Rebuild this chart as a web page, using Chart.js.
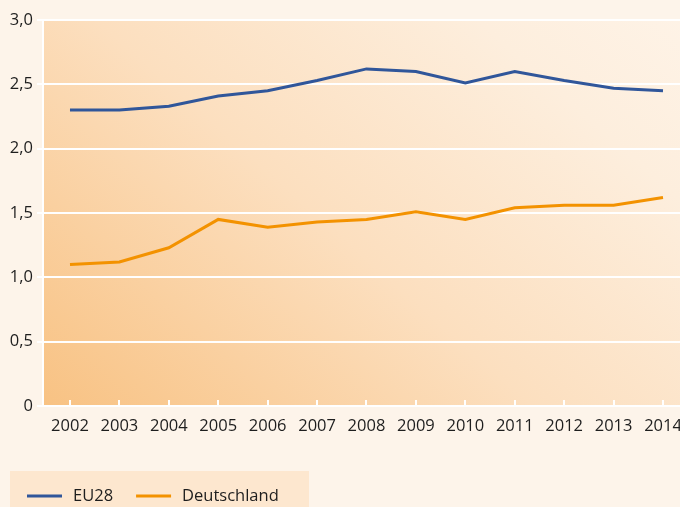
<!DOCTYPE html>
<html lang="de">
<head>
  <meta charset="UTF-8" />
  <title>EU28 / Deutschland</title>
  <script src="https://cdn.jsdelivr.net/npm/chart.js"></script>
  <style>
    html, body { margin: 0; padding: 0; background: #fdf4ea; }
    #wrap { position: relative; width: 680px; height: 507px; }
  </style>
</head>
<body>
  <div id="wrap"><canvas id="chart"></canvas></div>

  <script>
    // data
    const years = [2002, 2003, 2004, 2005, 2006, 2007, 2008, 2009, 2010, 2011, 2012, 2013, 2014];
    const eu28 = [2.30, 2.30, 2.33, 2.41, 2.45, 2.53, 2.62, 2.60, 2.51, 2.60, 2.53, 2.47, 2.45];
    const deutschland = [1.10, 1.12, 1.23, 1.45, 1.39, 1.43, 1.45, 1.51, 1.45, 1.54, 1.56, 1.56, 1.62];
    const yTicks = [0, 0.5, 1.0, 1.5, 2.0, 2.5, 3.0];

    const FONT = '"Open Sans", "Noto Sans", sans-serif';
    const FONT_SIZE = 16.5;
    const TEXT = '#1e1e1e';

    // orange-to-cream gradient behind the plot
    const plotBackground = {
      id: 'plotBackground',
      beforeDraw(chart) {
        const { ctx, chartArea: a } = chart;
        const g = ctx.createLinearGradient(a.left, a.bottom, a.left + a.width * 0.75, a.top - a.height * 0.4);
        g.addColorStop(0, '#f8c283');
        g.addColorStop(0.45, '#fcdfbf');
        g.addColorStop(0.8, '#fdeedd');
        g.addColorStop(1, '#fef3e7');
        ctx.save();
        ctx.fillStyle = g;
        ctx.fillRect(a.left, a.top, a.width, a.height);
        ctx.restore();
      }
    };

    // legend box at the bottom left
    const bottomLegend = {
      id: 'bottomLegend',
      afterDraw(chart) {
        const { ctx } = chart;
        ctx.save();
        ctx.fillStyle = '#fde7cf';
        ctx.fillRect(10, 471, 299, 36);
        ctx.font = FONT_SIZE + 'px ' + FONT;
        ctx.textBaseline = 'middle';
        let x = 27;
        const y = 496;
        chart.data.datasets.forEach(ds => {
          ctx.strokeStyle = ds.borderColor;
          ctx.lineWidth = 3;
          ctx.beginPath();
          ctx.moveTo(x, y);
          ctx.lineTo(x + 35, y);
          ctx.stroke();
          ctx.fillStyle = TEXT;
          ctx.fillText(ds.label, x + 46, y);
          x += 46 + ctx.measureText(ds.label).width + 23;
        });
        ctx.restore();
      }
    };

    const points = arr => arr.map((v, i) => ({ x: years[i], y: v }));

    new Chart(document.getElementById('chart'), {
      type: 'line',
      data: {
        datasets: [
          {
            label: 'EU28',
            data: points(eu28),
            borderColor: '#30569a',
            borderWidth: 3,
            pointRadius: 0,
            tension: 0
          },
          {
            label: 'Deutschland',
            data: points(deutschland),
            borderColor: '#f39200',
            borderWidth: 3,
            pointRadius: 0,
            tension: 0
          }
        ]
      },
      options: {
        responsive: true,
        maintainAspectRatio: false,
        animation: false,
        layout: { padding: { top: 20, right: 0, bottom: 71, left: 0 } },
        plugins: {
          legend: { display: false },
          tooltip: { enabled: false }
        },
        scales: {
          x: {
            type: 'linear',
            min: 2001.454,
            max: 2014.344,
            afterBuildTicks: scale => { scale.ticks = years.map(v => ({ value: v })); },
            afterFit: scale => {
              scale.height = 30;
              scale.paddingLeft = 0;
              scale.paddingRight = 0;
            },
            border: { display: false },
            grid: {
              drawOnChartArea: false,
              drawTicks: true,
              tickLength: -6,
              color: '#ffffff',
              lineWidth: 2
            },
            ticks: {
              color: TEXT,
              font: { family: FONT, size: FONT_SIZE },
              padding: 16,
              maxRotation: 0,
              autoSkip: false,
              callback: v => String(v)
            }
          },
          y: {
            min: 0,
            max: 3,
            afterBuildTicks: scale => { scale.ticks = yTicks.map(v => ({ value: v })); },
            afterFit: scale => { scale.width = 43; },
            border: { display: true, color: '#ffffff', width: 2 },
            grid: {
              color: '#ffffff',
              lineWidth: 2,
              tickLength: 6
            },
            ticks: {
              color: TEXT,
              font: { family: FONT, size: FONT_SIZE },
              padding: 4,
              callback: v => v === 0 ? '0' : v.toFixed(1).replace('.', ',')
            }
          }
        }
      },
      plugins: [plotBackground, bottomLegend]
    });
  </script>
</body>
</html>
